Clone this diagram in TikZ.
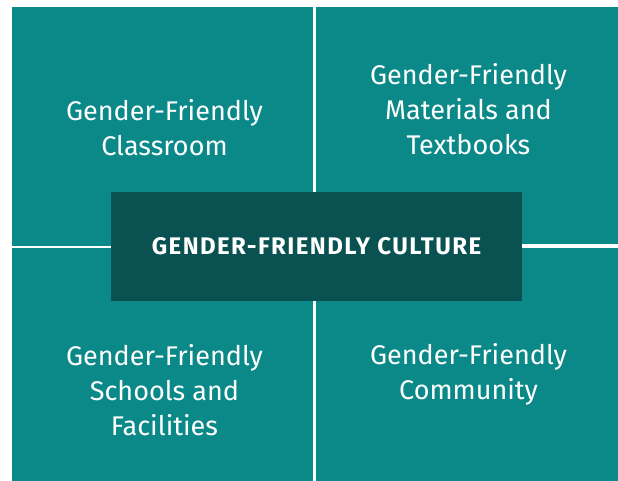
\documentclass[tikz,border=0pt]{standalone}
\usepackage{fontspec}
\setmainfont{Fira Sans}
\usetikzlibrary{positioning}
\definecolor{quadteal}{HTML}{0B8988}
\definecolor{coredark}{HTML}{0A5152}

\begin{document}
\begin{tikzpicture}[x=1pt, y=-1pt]
\tikzset{quad/.style={rectangle, fill=quadteal, draw=none, inner sep=0pt, outer sep=0pt, anchor=north west}, quadlabel/.style={text=white, align=center, inner sep=0pt, font=\fontsize{27}{35}\selectfont}}

\useasboundingbox[fill=white] (0,0) rectangle (618,481);

% four quadrants, white gaps between
\node[quad, minimum width=301pt, minimum height=238.7pt] (TL) at (12,7) {};
\node[quad, minimum width=302pt, minimum height=237pt] (TR) at (316,7) {};
\node[quad, minimum width=301pt, minimum height=233.3pt] (BL) at (12,247.7) {};
\node[quad, minimum width=302pt, minimum height=233pt] (BR) at (316,248) {};

% labels
\node[quadlabel] (TLtext) at (164.5,128) {Gender-Friendly\\Classroom};
\node[quadlabel] (TRtext) at (468.5,109.5) {Gender-Friendly\\Materials and\\Textbooks};
\node[quadlabel] (BLtext) at (164.5,390) {Gender-Friendly\\Schools and\\Facilities};
\node[quadlabel] (BRtext) at (468.5,374) {Gender-Friendly\\Community};

% centre box
\node[rectangle, fill=coredark, minimum width=411pt, minimum height=108.5pt, text=white, font=\fontsize{24}{26}\selectfont\bfseries\addfontfeatures{LetterSpace=6}] (core) at (316.5,246.3) {GENDER-FRIENDLY CULTURE};

\end{tikzpicture}
\end{document}
